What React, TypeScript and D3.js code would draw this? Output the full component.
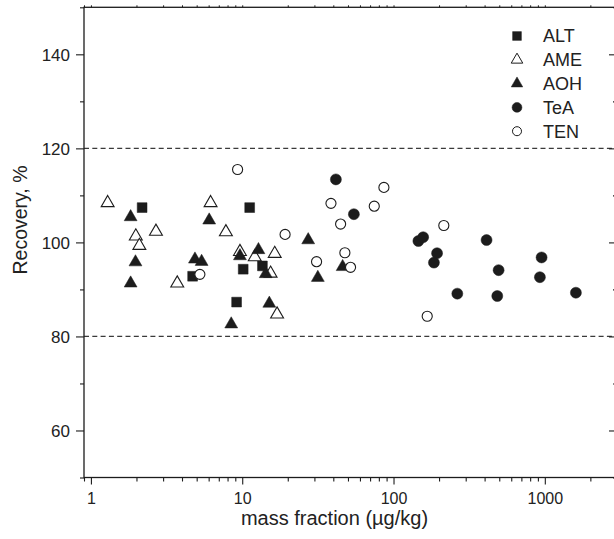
import * as d3 from "d3";
import {useRef, useEffect} from "react";

// values
const altX = [2.18, 4.70, 9.18, 10.15, 11.2, 13.6];
const altY = [107.4, 92.8, 87.3, 94.3, 107.4, 95.0];
const ameX = [1.29, 1.98, 2.09, 2.69, 3.72, 6.18, 7.8, 9.66, 12.1, 15.4, 16.4, 17.0];
const ameY = [108.4, 101.3, 99.3, 102.3, 91.3, 108.4, 102.2, 98.0, 96.9, 93.4, 97.6, 84.7];
const aohX = [1.83, 1.97, 1.83, 4.87, 5.39, 6.05, 8.46, 9.66, 12.8, 14.3, 15.1, 27.3, 31.6, 46.1];
const aohY = [105.4, 95.8, 91.3, 96.4, 95.9, 104.7, 82.6, 97.1, 98.4, 93.3, 87.0, 100.5, 92.5, 94.8];
const teaX = [41.6, 54.7, 146, 157, 194, 185, 264, 412, 495, 485, 928, 952, 1605];
const teaY = [113.4, 106.0, 100.3, 101.1, 97.7, 95.7, 89.1, 100.5, 94.1, 88.6, 92.6, 96.8, 89.3];
const tenX = [5.25, 9.32, 19.2, 31.0, 38.6, 44.7, 47.7, 52.0, 74.6, 86.4, 167, 215];
const tenY = [93.2, 115.5, 101.7, 95.9, 108.3, 103.9, 97.8, 94.7, 107.7, 111.7, 84.3, 103.6];

const seriesNames = ["ALT", "AME", "AOH", "TeA", "TEN"];
const limitLines = [80, 120];
const xMajor = [1, 10, 100, 1000];
const yTicks = [50, 60, 70, 80, 90, 100, 110, 120, 130, 140, 150];

const App = () => {
    const ref = useRef(null);

    useEffect(() => {
        const width = 614, height = 539;
        const left = 84, right = 617, top = 7.3, bottom = 477.5;
        const ink = "#1c1c1c";
        const font = "Liberation Sans, Arial, sans-serif";

        const x = d3.scaleLog().domain([0.9, 3000]).range([left, right]);
        const y = d3.scaleLinear().domain([50, 150]).range([bottom, top]);

        const svg = d3.select(ref.current);
        svg.selectAll("*").remove();
        svg.attr("width", width).attr("height", height);

        // dashed limits
        svg.append("g")
            .selectAll("line")
            .data(limitLines)
            .join("line")
            .attr("x1", left).attr("x2", right)
            .attr("y1", d => y(d)).attr("y2", d => y(d))
            .attr("stroke", "#3a3a3a")
            .attr("stroke-width", 1.2)
            .attr("stroke-dasharray", "5,3.3");

        const xTicks = x.ticks().filter(d => d >= 0.9 && d <= 3000);
        const isMajorX = d => xMajor.includes(d);

        // bottom axis
        const bx = svg.append("g")
            .attr("transform", `translate(0,${bottom})`)
            .call(d3.axisBottom(x).tickValues(xTicks)
                .tickSize(0).tickFormat(d => isMajorX(d) ? d3.format("d")(d) : ""));
        bx.select(".domain").remove();
        bx.selectAll(".tick line")
            .attr("y2", d => isMajorX(d) ? 7 : 4)
            .attr("stroke", ink).attr("stroke-width", 1.1);
        bx.selectAll(".tick text")
            .attr("y", 0).attr("dy", 26.5)
            .attr("font-family", font).attr("font-size", 16).attr("fill", "#222");

        // top axis
        const tx = svg.append("g")
            .attr("transform", `translate(0,${top})`)
            .call(d3.axisTop(x).tickValues(xTicks).tickSize(2).tickFormat(() => ""));
        tx.select(".domain").remove();
        tx.selectAll(".tick line").attr("stroke", ink).attr("stroke-width", 1);

        const isMajorY = d => d % 20 === 0;

        // left axis
        const ly = svg.append("g")
            .attr("transform", `translate(${left},0)`)
            .call(d3.axisLeft(y).tickValues(yTicks).tickSize(0)
                .tickFormat(d => isMajorY(d) ? String(d) : ""));
        ly.select(".domain").remove();
        ly.selectAll(".tick line")
            .attr("x2", d => isMajorY(d) ? -8 : -4)
            .attr("stroke", ink).attr("stroke-width", 1.1);
        ly.selectAll(".tick text")
            .attr("x", -14).attr("dy", "0.36em")
            .attr("font-family", font).attr("font-size", 17).attr("fill", "#222");

        // right axis (inward ticks)
        const ry = svg.append("g")
            .attr("transform", `translate(${right},0)`)
            .call(d3.axisLeft(y).tickValues(yTicks).tickSize(0).tickFormat(() => ""));
        ry.select(".domain").remove();
        ry.selectAll(".tick line")
            .attr("x2", d => isMajorY(d) ? -8 : -4)
            .attr("stroke", ink).attr("stroke-width", 1.1);

        // frame
        svg.append("rect")
            .attr("x", left).attr("y", top)
            .attr("width", right - left).attr("height", bottom - top)
            .attr("fill", "none").attr("stroke", ink).attr("stroke-width", 1.3);

        const shapes = {
            ALT: {type: d3.symbolSquare, size: 96, filled: true, xs: altX, ys: altY},
            AME: {type: d3.symbolTriangle, size: 72, filled: false, xs: ameX, ys: ameY},
            AOH: {type: d3.symbolTriangle, size: 72, filled: true, xs: aohX, ys: aohY},
            TeA: {type: d3.symbolCircle, size: 95, filled: true, xs: teaX, ys: teaY},
            TEN: {type: d3.symbolCircle, size: 80, filled: false, xs: tenX, ys: tenY},
        };

        const pts = svg.append("g");
        seriesNames.forEach(name => {
            const s = shapes[name];
            const sym = d3.symbol().type(s.type).size(s.size);
            pts.append("g")
                .selectAll("path")
                .data(d3.zip(s.xs, s.ys))
                .join("path")
                .attr("d", sym)
                .attr("transform", ([a, b]) => `translate(${x(a)},${y(b)})`)
                .attr("fill", s.filled ? ink : "#fff")
                .attr("stroke", ink)
                .attr("stroke-width", s.filled ? 0.5 : 1.1);
        });

        // legend
        const legend = svg.append("g")
            .selectAll("g")
            .data(seriesNames)
            .join("g")
            .attr("transform", (d, i) => `translate(517,${36 + i * 23.8})`);
        legend.append("path")
            .attr("d", d => d3.symbol().type(shapes[d].type).size(shapes[d].size * 0.8)())
            .attr("fill", d => shapes[d].filled ? ink : "#fff")
            .attr("stroke", ink)
            .attr("stroke-width", d => shapes[d].filled ? 0.5 : 1);
        legend.append("text")
            .attr("x", 26).attr("dy", "0.36em")
            .attr("font-family", font).attr("font-size", 18).attr("fill", "#222")
            .text(d => d);

        // axis titles
        svg.append("text")
            .attr("x", 334.5).attr("y", 525)
            .attr("text-anchor", "middle")
            .attr("font-family", font).attr("font-size", 20).attr("fill", "#222")
            .text("mass fraction (\u00b5g/kg)");
        svg.append("text")
            .attr("transform", "translate(27,220) rotate(-90)")
            .attr("text-anchor", "middle")
            .attr("font-family", font).attr("font-size", 19.5).attr("fill", "#222")
            .text("Recovery, %");
    }, []);

    return (
        <svg ref={ref} style={{position: "absolute", left: 0, top: 0, background: "#fff"}}></svg>
    );
};

export default App;
